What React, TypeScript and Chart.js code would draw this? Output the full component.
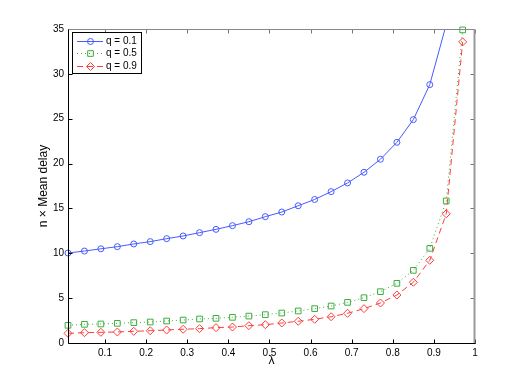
import { useEffect, useRef } from "react";
import { Chart, registerables } from "chart.js";

Chart.register(...registerables);

const lambda = [0.01, 0.05, 0.09, 0.13, 0.17, 0.21, 0.25, 0.29, 0.33, 0.37, 0.41, 0.45, 0.49, 0.53, 0.57, 0.61, 0.65, 0.69, 0.73, 0.77, 0.81, 0.85, 0.89, 0.93, 0.97];
const q01 = [10.03, 10.25, 10.5, 10.74, 11.04, 11.3, 11.63, 11.93, 12.3, 12.67, 13.08, 13.52, 14.08, 14.6, 15.3, 16.0, 16.87, 17.84, 19.03, 20.48, 22.37, 24.9, 28.8, 35.5];
const q05 = [1.97, 2.08, 2.12, 2.19, 2.27, 2.34, 2.45, 2.56, 2.68, 2.75, 2.86, 3.0, 3.16, 3.34, 3.57, 3.83, 4.12, 4.53, 5.05, 5.72, 6.65, 8.1, 10.55, 15.83, 34.9];
const q09 = [1.08, 1.15, 1.19, 1.23, 1.3, 1.37, 1.45, 1.53, 1.6, 1.71, 1.78, 1.93, 2.04, 2.23, 2.42, 2.64, 2.93, 3.31, 3.83, 4.46, 5.35, 6.77, 9.22, 14.4, 33.56];
const seriesLabels = ["q = 0.1", "q = 0.5", "q = 0.9"];
const xTicks = [0.1, 0.2, 0.3, 0.4, 0.5, 0.6, 0.7, 0.8, 0.9, 1];
const yTicks = [0, 5, 10, 15, 20, 25, 30, 35];
const xTickLabels = ["0.1", "0.2", "0.3", "0.4", "0.5", "0.6", "0.7", "0.8", "0.9", "1"];

const BLUE = "rgb(70,90,255)";
const GREEN = "rgb(60,175,60)";
const RED = "rgb(255,60,60)";
const FONT = "'Liberation Sans', Arial, Helvetica, sans-serif";

function pts(vals: number[]) {
  return vals.map((v, i) => ({ x: lambda[i], y: v }));
}

function drawMarker(ctx: CanvasRenderingContext2D, style: string, x: number, y: number, r: number) {
  ctx.beginPath();
  if (style === "circle") {
    ctx.arc(x, y, r, 0, Math.PI * 2);
  } else if (style === "rect") {
    const s = r * Math.SQRT1_2;
    ctx.rect(x - s, y - s, 2 * s, 2 * s);
  } else {
    ctx.moveTo(x, y - r);
    ctx.lineTo(x + r, y);
    ctx.lineTo(x, y + r);
    ctx.lineTo(x - r, y);
    ctx.closePath();
  }
  ctx.stroke();
}

const framePlugin = {
  id: "matlabFrame",
  afterDatasetsDraw(chart: any) {
    const { ctx, chartArea } = chart;
    const { left, right, top, bottom } = chartArea;
    const xs = chart.scales.x;
    const ys = chart.scales.y;
    const L = Math.round(left) + 0.5;
    const R = Math.round(right) - 0.5;
    const T = Math.round(top) + 0.5;
    const B = Math.round(bottom) + 0.5;
    ctx.save();
    ctx.setLineDash([]);
    ctx.lineWidth = 1;
    for (const v of xTicks) {
      const px = Math.round(xs.getPixelForValue(v)) + 0.5;
      ctx.strokeStyle = "#000";
      ctx.beginPath();
      ctx.moveTo(px, B);
      ctx.lineTo(px, B - 4);
      ctx.stroke();
      ctx.strokeStyle = "#777";
      ctx.beginPath();
      ctx.moveTo(px, T);
      ctx.lineTo(px, T + 4);
      ctx.stroke();
    }
    for (const v of yTicks) {
      const py = Math.round(ys.getPixelForValue(v)) + 0.5;
      ctx.strokeStyle = "#000";
      ctx.beginPath();
      ctx.moveTo(L, py);
      ctx.lineTo(L + 4, py);
      ctx.stroke();
      ctx.strokeStyle = "#777";
      ctx.beginPath();
      ctx.moveTo(R, py);
      ctx.lineTo(R - 4, py);
      ctx.stroke();
    }
    ctx.strokeStyle = "#888";
    ctx.beginPath();
    ctx.moveTo(L, T);
    ctx.lineTo(R, T);
    ctx.stroke();
    ctx.lineWidth = 2;
    ctx.strokeStyle = "#999";
    ctx.beginPath();
    ctx.moveTo(R, T);
    ctx.lineTo(R, B);
    ctx.stroke();
    ctx.lineWidth = 1;
    ctx.strokeStyle = "#000";
    ctx.beginPath();
    ctx.moveTo(L, T);
    ctx.lineTo(L, B);
    ctx.lineTo(R + 1, B);
    ctx.stroke();
    ctx.restore();
  },
  afterDraw(chart: any) {
    const { ctx, chartArea } = chart;
    const bx = Math.round(chartArea.left) + 4;
    const by = Math.round(chartArea.top) + 3;
    const bw = 69;
    const bh = 41;
    ctx.save();
    ctx.fillStyle = "#fff";
    ctx.fillRect(bx, by, bw, bh);
    ctx.lineWidth = 1;
    ctx.strokeStyle = "#000";
    ctx.setLineDash([]);
    ctx.strokeRect(bx + 0.5, by + 0.5, bw, bh);
    chart.data.datasets.forEach((ds: any, i: number) => {
      const ry = Math.round(by + 8.7 + i * 12.65) + 0.5;
      ctx.strokeStyle = ds.borderColor;
      ctx.lineWidth = 1;
      ctx.setLineDash(ds.borderDash || []);
      ctx.beginPath();
      ctx.moveTo(bx + 5, ry);
      ctx.lineTo(bx + 31, ry);
      ctx.stroke();
      ctx.setLineDash([]);
      drawMarker(ctx, ds.pointStyle, bx + 18.5, ry, ds.pointRadius);
      ctx.fillStyle = "#000";
      ctx.font = `10px ${FONT}`;
      ctx.textBaseline = "middle";
      ctx.textAlign = "left";
      ctx.fillText(ds.label, bx + 34, ry);
    });
    ctx.restore();
  },
};

export default function App() {
  const ref = useRef<HTMLCanvasElement | null>(null);
  useEffect(() => {
    if (!ref.current) return;
    const common = {
      borderWidth: 1,
      pointBorderWidth: 1,
      pointBackgroundColor: "rgba(255,255,255,0)",
      tension: 0,
      fill: false,
    };
    const chart = new Chart(ref.current, {
      type: "line",
      data: {
        datasets: [
          {
            ...common,
            label: seriesLabels[0],
            data: pts(q01),
            borderColor: BLUE,
            pointBorderColor: BLUE,
            pointStyle: "circle",
            pointRadius: 3,
            clip: { left: 6, top: 0, right: 6, bottom: 6 },
          },
          {
            ...common,
            label: seriesLabels[1],
            data: pts(q05),
            borderColor: GREEN,
            pointBorderColor: GREEN,
            borderDash: [1, 3],
            pointStyle: "rect",
            pointRadius: 4,
            clip: { left: 6, top: 6, right: 6, bottom: 6 },
          },
          {
            ...common,
            label: seriesLabels[2],
            data: pts(q09),
            borderColor: RED,
            pointBorderColor: RED,
            borderDash: [6, 4],
            pointStyle: "rectRot",
            pointRadius: 4,
            clip: { left: 6, top: 6, right: 6, bottom: 6 },
          },
        ] as any,
      },
      options: {
        animation: false,
        responsive: false,
        layout: { padding: { left: 0, top: 29, right: 51, bottom: 0 } },
        plugins: { legend: { display: false }, tooltip: { enabled: false } },
        scales: {
          x: {
            type: "linear",
            min: 0.01,
            max: 1,
            grid: { display: false, drawTicks: false },
            border: { display: false },
            afterBuildTicks: (scale: any) => {
              scale.ticks = xTicks.map((v) => ({ value: v }));
            },
            afterFit: (scale: any) => {
              scale.height = 43;
            },
            ticks: {
              color: "#000",
              padding: 4,
              maxRotation: 0,
              autoSkip: false,
              font: { family: FONT, size: 10 },
              callback: (v: any) => {
                const i = xTicks.indexOf(Number(v));
                return i >= 0 ? xTickLabels[i] : "";
              },
            },
            title: {
              display: true,
              text: "λ",
              color: "#000",
              font: { family: FONT, size: 12 },
              padding: { top: 0, bottom: 18 },
            },
          },
          y: {
            type: "linear",
            min: 0,
            max: 35,
            grid: { display: false, drawTicks: false },
            border: { display: false },
            afterBuildTicks: (scale: any) => {
              scale.ticks = yTicks.map((v) => ({ value: v }));
            },
            afterFit: (scale: any) => {
              scale.width = 68;
            },
            ticks: {
              color: "#000",
              padding: 4,
              autoSkip: false,
              font: { family: FONT, size: 10 },
              callback: (v: any) => String(v),
            },
            title: {
              display: true,
              text: "n × Mean delay",
              color: "#000",
              font: { family: FONT, size: 12 },
              padding: { top: 36, bottom: 0 },
            },
          },
        },
      },
      plugins: [framePlugin],
    });
    return () => chart.destroy();
  }, []);
  return (
    <canvas
      ref={ref}
      width={526}
      height={386}
      style={{ position: "absolute", left: 0, top: 0, width: 526, height: 386 }}
    />
  );
}
